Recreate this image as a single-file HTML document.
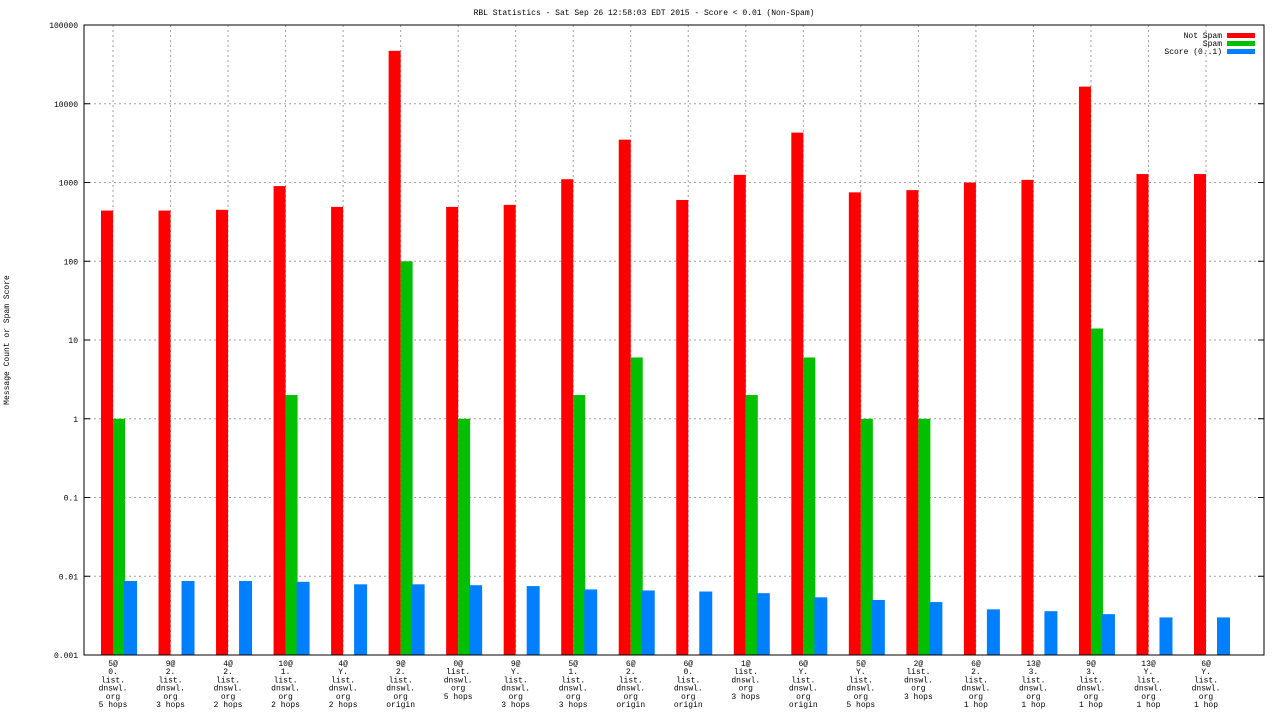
<!DOCTYPE html>
<html><head><meta charset="utf-8"><style>
body{margin:0;background:#fff}
svg text{font-family:"Liberation Mono","DejaVu Sans Mono",monospace;font-size:8px;fill:#000}
</style></head><body>
<svg id="c" width="1280" height="720" xmlns="http://www.w3.org/2000/svg">
<text x="644" y="15" text-anchor="middle">RBL Statistics - Sat Sep 26 12:58:03 EDT 2015 - Score &lt; 0.01 (Non-Spam)</text>
<text transform="translate(9,340) rotate(-90)" text-anchor="middle">Message Count or Spam Score</text>
</svg>
<script>
const categories=[["5@","0.","list.","dnswl.","org","5 hops"],["9@","2.","list.","dnswl.","org","3 hops"],["4@","2.","list.","dnswl.","org","2 hops"],["10@","1.","list.","dnswl.","org","2 hops"],["4@","Y.","list.","dnswl.","org","2 hops"],["9@","2.","list.","dnswl.","org","origin"],["0@","list.","dnswl.","org","5 hops"],["9@","Y.","list.","dnswl.","org","3 hops"],["5@","1.","list.","dnswl.","org","3 hops"],["6@","2.","list.","dnswl.","org","origin"],["6@","0.","list.","dnswl.","org","origin"],["1@","list.","dnswl.","org","3 hops"],["6@","Y.","list.","dnswl.","org","origin"],["5@","Y.","list.","dnswl.","org","5 hops"],["2@","list.","dnswl.","org","3 hops"],["6@","2.","list.","dnswl.","org","1 hop"],["13@","3.","list.","dnswl.","org","1 hop"],["9@","3.","list.","dnswl.","org","1 hop"],["13@","Y.","list.","dnswl.","org","1 hop"],["6@","Y.","list.","dnswl.","org","1 hop"]];
const notSpam=[440,440,450,900,490,47000,490,520,1100,3500,600,1250,4300,750,800,1000,1080,16500,1280,1280];
const spam=[1,0,0,2,0,100,1,0,2,6,0,2,6,1,1,0,0,14,0,0];
const score=[0.0087,0.0087,0.0087,0.0085,0.0079,0.0079,0.0077,0.0075,0.0068,0.0066,0.0064,0.0061,0.0054,0.0050,0.0047,0.0038,0.0036,0.0033,0.0030,0.0030];
const yTicks=[0.001,0.01,0.1,1,10,100,1000,10000,100000];
const yTickLabels=["0.001","0.01","0.1","1","10","100","1000","10000","100000"];
const svg=document.getElementById('c');const NS="http://www.w3.org/2000/svg";
const L=84,R=1264,T=25,B=655;
const y=v=>B-(Math.log10(v)+3)/8*(B-T);
const step=(1206-113)/19;
const x=i=>113+i*step;
function mk(t,a,p){const e=document.createElementNS(NS,t);for(const k in a)e.setAttribute(k,a[k]);(p||svg).appendChild(e);return e;}
yTicks.forEach((v,i)=>{const yy=y(v);
 if(i>0&&i<yTicks.length-1){const g=mk('line',{x1:L,x2:R,y1:yy,y2:yy,stroke:'#a0a0a0','stroke-dasharray':'2,3'});
 
 }
 const t=mk('text',{x:L-6,y:yy+3,'text-anchor':'end'});t.textContent=yTickLabels[i];
 
 
 mk('line',{x1:L,x2:L+6,y1:yy,y2:yy,stroke:'#000'});mk('line',{x1:R,x2:R-6,y1:yy,y2:yy,stroke:'#000'});
});
categories.forEach((c,i)=>{const cx=x(i);
 const g=mk('line',{x1:cx,x2:cx,y1:T,y2:B,stroke:'#a0a0a0','stroke-dasharray':'2,3'});
 
 
 c.forEach((s,j)=>{const t=mk('text',{x:cx,y:666+j*8.2,'text-anchor':'middle'});t.textContent=s;
 
 });
 const r=mk('rect',{x:cx-12,y:y(notSpam[i]),width:12,height:B-y(notSpam[i]),fill:'#ff0000'});
 
 
 if(spam[i]>0){const gr=mk('rect',{x:cx,y:y(spam[i]),width:12,height:B-y(spam[i]),fill:'#00c000'});
 
 }
 const b=mk('rect',{x:cx+11,y:y(score[i]),width:13,height:B-y(score[i]),fill:'#0080ff'});
 
 
});
const fr=mk('rect',{x:L,y:T,width:R-L,height:B-T,fill:'none',stroke:'#000'});


const legend=[["Not Spam","#ff0000"],["Spam","#00c000"],["Score (0..1)","#0080ff"]];
legend.forEach((l,i)=>{const yy=35+i*8;
 const t=mk('text',{x:1222,y:yy+3,'text-anchor':'end'});t.textContent=l[0];
 
 
 const r=mk('rect',{x:1227,y:yy-2,width:28,height:5,fill:l[1]});
 
 
});
</script>
</body></html>
